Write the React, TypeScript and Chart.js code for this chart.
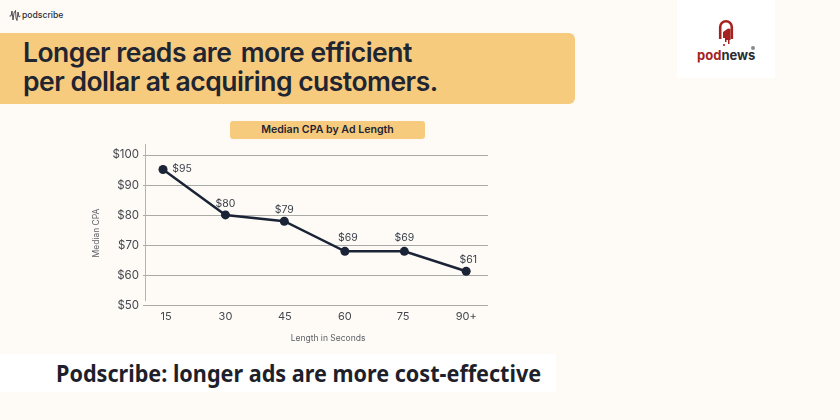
import React, { useEffect, useRef } from "react";
import { Chart, registerables } from "chart.js";

Chart.register(...registerables);

const categories = ["15", "30", "45", "60", "75", "90+"];
const categoryPositions = [0, 1.03, 2, 3, 3.98, 5];
const tickPositions = [0.05, 1.03, 2.01, 3, 3.96, 5];
const cpaValues = [95.2, 80.1, 78, 68, 68, 61.4];
const cpaLabels = ["$95", "$80", "$79", "$69", "$69", "$61"];
const labelOffsets = [[19, -1], [0, -11], [0, -11], [3, -13], [0, -13], [2, -11]];

const INK = "#1b2436";
const AMBER = "#f7cb7e";
const FONT = "Inter, 'Noto Sans', sans-serif";

const annotate = {
  id: "annotate",
  afterDatasetsDraw(chart: any) {
    const { ctx, scales } = chart;
    const pts = chart.getDatasetMeta(0).data;
    ctx.save();
    ctx.strokeStyle = "#b4b4b0";
    ctx.lineWidth = 1;
    ctx.beginPath();
    ctx.moveTo(scales.y.left + scales.y.width + 0.5, scales.y.top);
    ctx.lineTo(scales.y.left + scales.y.width + 0.5, scales.y.getPixelForValue(51.5));
    ctx.stroke();
    ctx.fillStyle = "#3a3f4a";
    ctx.font = `400 10.5px ${FONT}`;
    ctx.textAlign = "center";
    ctx.textBaseline = "middle";
    pts.forEach((p: any, i: number) => {
      ctx.fillText(cpaLabels[i], p.x + labelOffsets[i][0], p.y + labelOffsets[i][1]);
    });
    ctx.fillStyle = "#5f6168";
    ctx.font = `400 8.5px ${FONT}`;
    ctx.fillText("Length in Seconds", 328, 338);
    ctx.translate(96.5, 233);
    ctx.rotate(-Math.PI / 2);
    ctx.fillText("Median CPA", 0, 0);
    ctx.restore();
  },
};

function LineChart() {
  const ref = useRef<HTMLCanvasElement>(null);
  useEffect(() => {
    const chart = new Chart(ref.current as HTMLCanvasElement, {
      type: "line",
      data: {
        datasets: [
          {
            data: cpaValues.map((y, i) => ({ x: categoryPositions[i], y })),
            borderColor: INK,
            backgroundColor: INK,
            borderWidth: 2.5,
            pointRadius: 4.5,
            pointBorderWidth: 0,
            pointBackgroundColor: INK,
            tension: 0,
            clip: false,
          },
        ],
      },
      options: {
        animation: false,
        responsive: false,
        devicePixelRatio: 1,
        layout: { padding: { left: 90, top: 144, right: 352, bottom: 76.5 } },
        plugins: { legend: { display: false }, title: { display: false }, tooltip: { enabled: false } },
        scales: {
          x: {
            type: "linear",
            min: -0.297,
            max: 5.36,
            grid: { display: false },
            border: { display: false },
            afterBuildTicks: (s: any) => {
              s.ticks = tickPositions.map((value) => ({ value }));
            },
            afterFit: (s: any) => {
              s.height = 38;
            },
            ticks: {
              autoSkip: false,
              maxRotation: 0,
              padding: -3,
              color: "#45474f",
              font: { family: FONT, size: 11 },
              callback: (_v: any, i: number) => categories[i],
            },
          },
          y: {
            type: "linear",
            min: 50,
            max: 103.67,
            grid: { color: "#a9a9a5", lineWidth: 1, tickLength: 2 },
            border: { display: false },
            afterFit: (s: any) => {
              s.width = 55;
            },
            ticks: {
              stepSize: 10,
              includeBounds: false,
              padding: 4,
              color: "#45474f",
              font: { family: FONT, size: 11.5 },
              callback: (v: any) => "$" + v,
            },
          },
        },
      } as any,
      plugins: [annotate],
    });
    return () => chart.destroy();
  }, []);
  return <canvas ref={ref} width={840} height={420} style={{ position: "absolute", left: 0, top: 0, width: 840, height: 420 }} />;
}

const abs = (s: React.CSSProperties): React.CSSProperties => ({ position: "absolute", whiteSpace: "nowrap", ...s });

export default function App() {
  return (
    <div style={{ position: "absolute", left: 0, top: 0, width: 840, height: 420, background: "#fefbf6", overflow: "hidden" }}>
      <svg style={abs({ left: 9, top: 10 })} width={12} height={11} viewBox="0 0 12 11">
        <path d="M0.5 6 L2 6 L3 1 L4 10 L5 3 L6.5 0.5 L7 8 L8 10.5 L9 2 L10 7 L11.5 6" fill="none" stroke="#2a2a30" strokeWidth={0.8} />
      </svg>
      <div style={abs({ left: 22, top: 8, fontFamily: FONT, fontSize: 8.6, lineHeight: "14px", fontWeight: 500, color: "#2a2d38" })}>podscribe</div>

      <div style={abs({ left: 0, top: 33, width: 575, height: 71, background: AMBER, borderRadius: "0 6px 6px 0" })} />
      <div style={abs({ left: 23, top: 38, fontFamily: FONT, fontSize: 26.5, lineHeight: "29px", fontWeight: 600, color: "#1f2531", letterSpacing: -0.5 })}>
        Longer reads are <span style={{ marginLeft: 3 }}>more efficient</span>
        <br />
        per dollar at acquiring customers.
      </div>

      <div style={abs({ left: 677, top: 0, width: 98, height: 78, background: "#ffffff" })} />
      <svg style={abs({ left: 718, top: 19 })} width={16} height={28} viewBox="0 0 16 28">
        <path d="M2.2 20 L2.2 8 A5.8 5.8 0 0 1 13.8 8 L13.8 20" fill="none" stroke="#a5231f" strokeWidth={2.6} />
        <path d="M5 13 L10 9.5 L12.5 10 L12.5 21 L11.5 21 L11.5 25 L10 25 L10 21 L8.5 21 L8.5 23 L7 23 L7 19 L5 19 Z" fill="#a5231f" />
        <circle cx={6} cy={26} r={1.1} fill="#a5231f" />
      </svg>
      <div style={abs({ left: 697, top: 47, fontFamily: FONT, fontSize: 13, lineHeight: "16px", fontWeight: 700, color: "#2b2b33" })}>
        <span style={{ color: "#a5231f" }}>pod</span>news
      </div>
      <div style={abs({ left: 751, top: 46, width: 4, height: 4, borderRadius: 2, background: "#8a8a8a" })} />

      <div style={abs({ left: 230, top: 121, width: 195, height: 18, background: AMBER, borderRadius: 3, textAlign: "center", fontFamily: FONT, fontSize: 10.6, lineHeight: "18px", fontWeight: 600, color: "#1f2531" })}>
        Median CPA by Ad Length
      </div>

      <LineChart />

      <div style={abs({ left: 0, top: 354, width: 556, height: 38, background: "#ffffff" })} />
      <div style={abs({ left: 56, top: 356, fontFamily: "'Noto Sans', sans-serif", fontSize: 24, lineHeight: "34px", fontWeight: 700, color: "#1e1f2b", transform: "scaleX(0.9)", transformOrigin: "left center" })}>
        Podscribe: longer ads are more cost-effective
      </div>
    </div>
  );
}
